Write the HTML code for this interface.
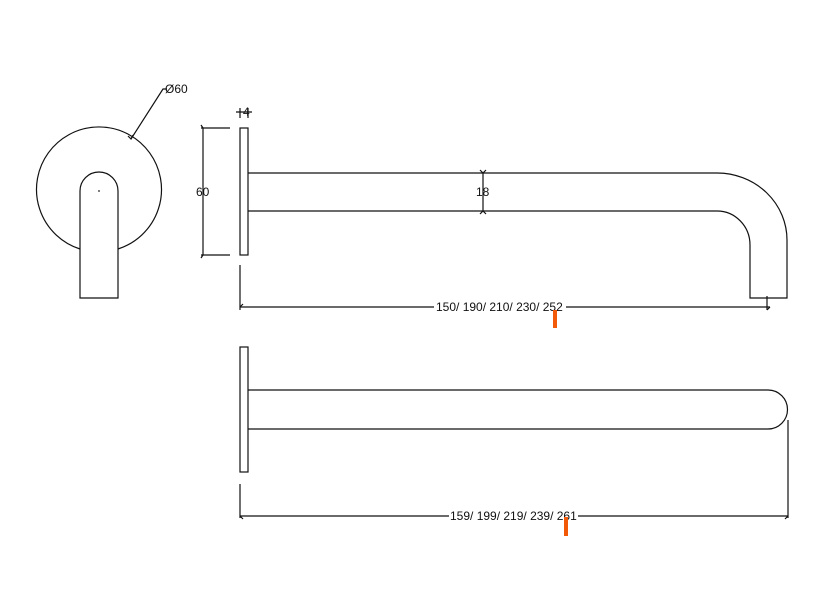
<!DOCTYPE html>
<html><head><meta charset="utf-8"><style>
html,body{margin:0;padding:0;background:#fff;}
svg{display:block;}
text{font-family:"Liberation Sans","DejaVu Sans",sans-serif;font-size:12px;fill:#111;}
</style></head><body>
<svg width="823" height="608" viewBox="0 0 823 608" xmlns="http://www.w3.org/2000/svg">
<g fill="none" stroke="#111" stroke-width="1.2">
<!-- front view -->
<path d="M80 249 A62.5 62.5 0 1 1 118 249"/>
<path d="M80 298 V191 A19 19 0 0 1 118 191 V298 Z"/>
<path d="M131 139 L163 89 H167"/>
<path d="M128 136 l3 3 l2 -4"/>
<!-- side view plate -->
<rect x="240" y="128" width="8" height="127"/>
<path d="M203 128 V255 M201 128 H230 M201 255 H230"/>
<path d="M201 125 l2 3 M201 258 l2 -3"/>
<path d="M236 112 H252 M240 108 V118 M248 108 V118"/>
<!-- pipe -->
<path d="M248 173 H717 A70 67 0 0 1 787 240 V298 H750 V245 A33 34 0 0 0 717 211 H248"/>
<path d="M483 173 V211 M480 170 l3 3 l3 -3 M480 214 l3 -3 l3 3"/>
<path d="M240 265 V310 M767 296 V310"/>
<path d="M240 307 H434 M566 307 H770"/>
<path d="M240 307 l3 -3 M770 307 l-3 3"/>
<!-- top view -->
<rect x="240" y="347" width="8" height="125"/>
<path d="M248 390 H768 A19.5 19.5 0 0 1 768 429 H248"/>
<path d="M788 420 V518 M240 484 V518"/>
<path d="M240 516 H449 M578 516 H788"/>
<path d="M240 516 l3 3 M788 516 l-3 3"/>
</g>
<circle cx="99" cy="191" r="0.9" fill="#222"/>
<text x="165" y="93">Ø60</text>
<text x="243" y="116" fill="#c58a2a">4</text>
<text x="196" y="196" fill="#c58a2a">60</text>
<text x="476" y="196">18</text>
<text x="436" y="311">150/ 190/ 210/ 230/ 252</text>
<text x="450" y="520">159/ 199/ 219/ 239/ 261</text>
<rect x="553" y="310" width="4" height="18" fill="#f25a0a"/>
<rect x="564" y="517" width="4" height="19" fill="#f25a0a"/>
</svg>
</body></html>
